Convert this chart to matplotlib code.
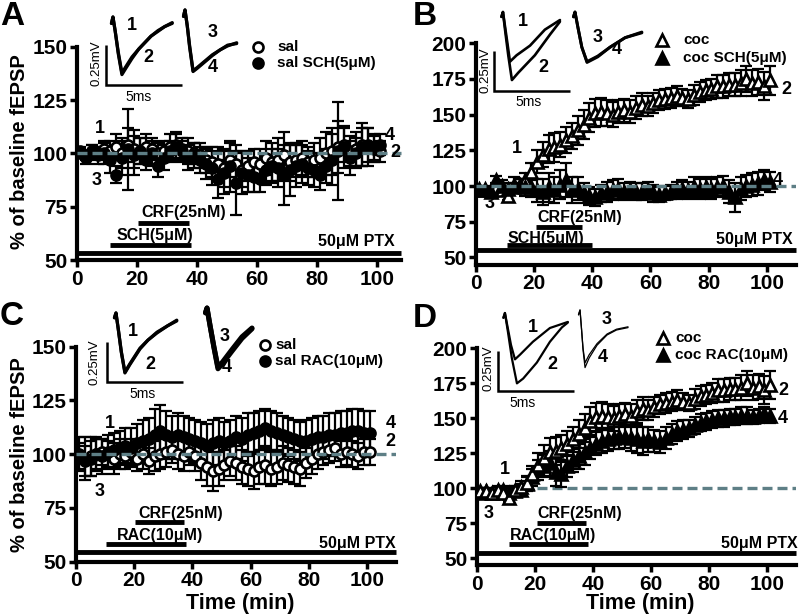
import matplotlib
matplotlib.use('Agg')
import matplotlib.pyplot as plt
from matplotlib.lines import Line2D
import numpy as np

plt.rcParams['font.family'] = ['Liberation Sans', 'DejaVu Sans']

# ---------------- data ----------------
time = [1,3,5,7,9,11,13,15,17,19,21,23,25,27,29,31,33,35,37,39,41,43,45,47,49,
        51,53,55,57,59,61,63,65,67,69,71,73,75,77,79,81,83,85,87,89,91,93,95,97,99,101]

A_sal = [100,99,101,100,102,101,103,100,104,102, 101,103,102,100,101,103,104,102,101,100,
         99,97,96,95,93,97,95,92,94,96, 95,98,96,97,99,96,97,98,96,97,
         98,100,101,103,104,101,102,104,103,102,101]
A_sal_err = [2,2,3,3,4,5,6,7,8,9, 6,6,5,5,5,6,6,5,6,5, 6,6,7,8,9,8,9,8,7,6,
             7,8,9,10,11,9,8,8,7,8, 9,10,11,12,8,7,8,10,9,6,5]
A_sch = [101,98,101,99,100,97,90,98,102,99, 101,97,100,94,98,101,103,101,98,99,
         97,95,93,88,91,94,86,91,90,89, 88,92,94,93,90,92,94,95,93,92,
         90,94,97,101,103,98,100,103,104,103,104]
A_sch_err = [2,3,3,4,5,6,4,8,19,9, 6,5,6,5,6,5,6,5,6,6, 6,7,8,9,10,12,15,10,8,7,
             6,7,8,9,14,12,10,9,8,8, 7,8,12,23,10,8,7,9,8,6,5]

coc = [98,98,97,99,97,93,99,101,104,110, 117,122,126,127,129,132,135,139,143,148,
       151,152,151,150,152,153,152,155,157,156, 158,160,161,162,163,162,161,164,166,167,
       168,170,170,171,171,172,175,172,173,170,174]
coc_err = [2,2,2,3,3,3,3,4,5,6, 8,9,10,10,9,9,9,10,10,10, 10,10,9,9,8,8,8,8,8,7,
           7,7,7,7,7,6,6,7,7,7, 7,8,8,8,8,9,9,9,9,10,10]
B_sch = [97,97,96,104,100,98,101,100,99,99, 97,96,99,97,101,104,97,98,95,93,
         92,95,96,97,98,96,97,96,96,97, 95,94,95,96,97,98,97,99,98,99,
         98,99,100,96,92,98,100,101,102,104,103]
B_sch_err = [2,2,2,3,4,4,5,5,6,7, 8,9,10,9,10,12,9,8,7,6, 6,6,7,7,7,6,6,6,6,6,
             6,5,5,5,6,6,6,7,7,7, 7,7,7,8,10,8,8,8,8,7,7]

C_sal = [100,98,99,100,101,100,98,100,99,101, 98,100,97,99,100,101,102,100,99,101,
         99,96,94,92,93,95,97,96,94,93, 92,94,95,93,94,96,95,94,93,96,
         98,100,101,102,103,100,101,100,99,101,101]
C_sal_err = [8,10,9,7,6,6,7,7,6,6, 6,7,6,7,7,7,6,7,7,6, 7,8,9,9,8,7,7,8,8,8,
             8,8,9,8,8,8,8,8,8,7, 7,7,6,6,6,6,6,6,6,6,6]
C_rac = [99,97,98,100,99,101,102,103,104,103, 105,106,107,109,111,109,108,109,108,107,
         106,105,104,105,106,105,106,108,107,109, 110,111,112,111,110,109,108,107,106,106,
         107,108,108,109,109,110,110,111,111,110,110]
C_rac_err = [6,7,8,8,8,8,8,8,8,9, 9,10,10,12,12,11,10,10,10,10, 10,10,10,11,11,10,10,10,10,10,
             9,9,9,9,9,9,9,9,9,10, 10,10,10,10,10,10,10,10,10,10,10]

D_rac = [97,98,97,98,99,97,98,99,103,108, 113,116,118,112,110,116,120,123,126,129,
         132,134,135,136,137,137,136,135,134,135, 134,133,136,139,141,142,143,145,147,148,
         149,150,150,151,151,152,152,151,152,153,152]
D_rac_err = [2,2,2,3,3,3,4,4,5,6, 7,8,9,10,9,8,8,9,9,8, 8,9,8,8,9,8,9,10,10,9,
             8,8,8,7,7,7,6,6,6,6, 6,6,6,6,6,6,6,5,5,5,5]

# example fEPSP traces (ms, mV; relative to stimulus artifact tip)
A_tr12_t = [-0.1,0,0.15,0.35,0.59,0.85,1.25,1.7,2.1,2.5,2.96,3.4,3.9]
A_tr1_v = [-0.04,0,-0.09,-0.22,-0.35,-0.31,-0.25,-0.2,-0.16,-0.12,-0.09,-0.06,-0.04]
A_tr2_v = [-0.04,0,-0.09,-0.23,-0.36,-0.32,-0.26,-0.2,-0.16,-0.12,-0.085,-0.06,-0.035]
A_tr34_t = [-0.1,0,0.15,0.3,0.53,0.8,1.3,1.8,2.3,2.8,3.4]
A_tr3_v = [-0.04,0,-0.1,-0.22,-0.38,-0.36,-0.32,-0.28,-0.25,-0.22,-0.21]
A_tr4_v = [-0.04,0,-0.1,-0.23,-0.385,-0.365,-0.325,-0.285,-0.25,-0.225,-0.205]

B_tr1_t = [-0.1,0,0.15,0.3,0.46,0.9,1.78,2.76,3.75]
B_tr1_v = [-0.03,0,-0.1,-0.2,-0.31,-0.27,-0.21,-0.11,-0.05]
B_tr2_t = [-0.1,0,0.15,0.35,0.59,1.0,2.1,3.1,3.75]
B_tr2_v = [-0.03,0,-0.12,-0.27,-0.425,-0.38,-0.27,-0.14,-0.06]
B_tr34_t = [-0.1,0,0.2,0.45,0.79,1.5,2.3,3.3,4.4]
B_tr3_v = [-0.03,0,-0.1,-0.22,-0.31,-0.275,-0.22,-0.16,-0.13]
B_tr4_v = [-0.03,0,-0.1,-0.22,-0.315,-0.28,-0.22,-0.16,-0.125]

C_tr12_t = [-0.1,0,0.15,0.35,0.59,0.9,1.58,2.1,2.7,3.4,4.0]
C_tr1_v = [-0.03,0,-0.1,-0.24,-0.37,-0.32,-0.22,-0.17,-0.12,-0.08,-0.045]
C_tr2_v = [-0.03,0,-0.1,-0.245,-0.375,-0.325,-0.225,-0.17,-0.125,-0.08,-0.05]
C_tr34_t = [-0.1,0,0.2,0.45,0.72,1.0,1.64,2.3,2.96]
C_tr3_v = [-0.03,0,-0.11,-0.24,-0.37,-0.34,-0.26,-0.18,-0.125]
C_tr4_v = [-0.03,0,-0.11,-0.245,-0.38,-0.35,-0.27,-0.19,-0.13]

D_tr1_t = [-0.1,0,0.2,0.4,0.66,1.0,1.84,2.96,4.14]
D_tr1_v = [-0.03,0,-0.1,-0.2,-0.29,-0.26,-0.18,-0.094,-0.056]
D_tr2_t = [-0.1,0,0.2,0.45,0.79,1.2,2.1,2.96,3.75,4.14]
D_tr2_v = [-0.03,0,-0.12,-0.28,-0.44,-0.41,-0.31,-0.18,-0.09,-0.06]
D_tr34_t = [-0.1,0,0.1,0.2,0.33,0.6,1.12,1.78,2.4,3.16]
D_tr3_v = [-0.03,0,-0.12,-0.25,-0.36,-0.3,-0.22,-0.156,-0.125,-0.11]
D_tr4_v = [-0.03,0,-0.12,-0.24,-0.33,-0.28,-0.21,-0.15,-0.12,-0.105]

# ---------------- figure ----------------
W, H = 800, 615
fig = plt.figure(figsize=(W/100, H/100), dpi=100)
DASH_COL = '#5e7f86'
PX_PER_MS = 15.2
PX_PER_MV = 160.0


def px_axes(x0, x1, ytop, ybot):
    return fig.add_axes([x0/W, 1-ybot/H, (x1-x0)/W, (ybot-ytop)/H])


def style(ax, xmax, ymin, ymax, yticks):
    ax.set_xlim(0, xmax)
    ax.set_ylim(ymin, ymax)
    for s in ['top', 'right']:
        ax.spines[s].set_visible(False)
    for s in ['left', 'bottom']:
        ax.spines[s].set_linewidth(3)
    ax.set_xticks([0, 20, 40, 60, 80, 100])
    ax.set_yticks(yticks)
    ax.tick_params(direction='out', length=5, width=2.5, labelsize=15, pad=2)
    for lab in ax.get_xticklabels() + ax.get_yticklabels():
        lab.set_fontweight('bold')
    ax.patch.set_alpha(0)


def series(ax, y, e, marker, filled, ms):
    ax.errorbar(time, y, yerr=e, fmt='none', ecolor='k', elinewidth=1.6,
                capsize=4.5, capthick=1.6, zorder=2)
    ax.plot(time, y, linestyle='none', marker=marker, ms=ms,
            mfc='k' if filled else 'white', mec='k', mew=1.9, zorder=3)


def bar(ax, x0, x1, y, lw=3.5):
    ax.plot([x0, x1], [y, y], color='k', lw=lw, solid_capstyle='butt',
            clip_on=False, zorder=4)


def txt(ax, x, y, s, ha='left', va='center', size=11.5):
    ax.text(x, y, s, ha=ha, va=va, fontsize=size, fontweight='bold',
            clip_on=False, zorder=6)


def legend(xm, ytop, ybot, xt, marker, labels, ms):
    for (yy, filled, lab) in [(ytop, False, labels[0]), (ybot, True, labels[1])]:
        fig.add_artist(Line2D([xm/W], [1-yy/H], transform=fig.transFigure,
                              marker=marker, ms=ms, mfc='k' if filled else 'white',
                              mec='k', mew=1.9, linestyle='none'))
        fig.text(xt/W, 1-yy/H, lab, ha='left', va='center', fontsize=11,
                 fontweight='bold')


def inset(box, traces, corner, mv_pos, ms_pos, labs):
    x0, y0, w, h = box
    ia = fig.add_axes([x0/W, 1-(y0+h)/H, w/W, h/H])
    ia.set_xlim(0, w/PX_PER_MS)
    ia.set_ylim(-h/PX_PER_MV, 0)
    ia.axis('off')
    for (t, v, off, lw) in traces:
        ia.plot(np.array(t)+off[0], np.array(v)+off[1], color='k', lw=lw,
                solid_joinstyle='round', solid_capstyle='round')
    cx, cy = corner
    ia.plot([cx, cx, cx+5], [cy+0.25, cy, cy], color='k', lw=1.8,
            solid_joinstyle='miter', solid_capstyle='butt')
    ia.text(mv_pos[0], mv_pos[1], '0.25mV', rotation=90, ha='center', va='center',
            fontsize=9.5)
    ia.text(ms_pos[0], ms_pos[1], '5ms', ha='center', va='center', fontsize=10)
    for (s, (lx, ly)) in zip(['1', '2', '3', '4'], labs):
        ia.text(lx, ly, s, ha='center', va='center', fontsize=13, fontweight='bold')


# ---------- Panel A ----------
axA = px_axes(77, 77+108*3.0, 46.7, 260)
style(axA, 108, 50, 150, [50, 75, 100, 125, 150])
series(axA, A_sal, A_sal_err, 'o', False, 7.2)
series(axA, A_sch, A_sch_err, 'o', True, 7.2)
axA.plot([0, 108], [100, 100], color=DASH_COL, lw=2.4, dashes=(3, 1.5), zorder=5, clip_on=False)
bar(axA, 0, 108, 53.5)
bar(axA, 11, 37.9, 56.9)
bar(axA, 20.4, 37.4, 67.4)
txt(axA, 13.2, 61.6, 'SCH(5μM)')
txt(axA, 21.6, 72.5, 'CRF(25nM)')
txt(axA, 106, 58.9, '50μM PTX', ha='right')
for s, (x, y) in zip(['1', '3', '4', '2'], [(7.7, 111.8), (6.6, 87.4), (104.3, 108.5), (106, 100.6)]):
    txt(axA, x, y, s, ha='center', size=13)

# ---------- Panel B ----------
axB = px_axes(476, 476+110*2.907, 43.3, 264.5)
style(axB, 110, 45, 200, [50, 75, 100, 125, 150, 175, 200])
series(axB, coc, coc_err, '^', False, 8.5)
series(axB, B_sch, B_sch_err, '^', True, 8.5)
axB.plot([0, 110], [100, 100], color=DASH_COL, lw=2.4, dashes=(3, 1.5), zorder=5)
bar(axB, 0, 110, 55.2)
bar(axB, 10.8, 40, 58.7)
bar(axB, 20.6, 36.3, 71.5)
txt(axB, 11, 63.4, 'SCH(5μM)')
txt(axB, 21, 77.6, 'CRF(25nM)')
txt(axB, 109, 62.8, '50μM PTX', ha='right')
for s, (x, y) in zip(['1', '3', '2', '4'], [(14, 126.4), (4.8, 87.9), (106.8, 167.3), (103.8, 104.2)]):
    txt(axB, x, y, s, ha='center', size=13)

# ---------- Panel C ----------
axC = px_axes(76, 76+110*2.91, 346.7, 561.7)
style(axC, 110, 50, 150, [50, 75, 100, 125, 150])
series(axC, C_sal, C_sal_err, 'o', False, 7.2)
series(axC, C_rac, C_rac_err, 'o', True, 7.2)
axC.plot([0, 110], [100, 100], color=DASH_COL, lw=2.4, dashes=(3, 1.5), zorder=5)
bar(axC, 0, 110, 54.7)
bar(axC, 10.3, 37.8, 58.1)
bar(axC, 20.3, 37.2, 68.3)
txt(axC, 13.9, 62.4, 'RAC(10μM)')
txt(axC, 21.4, 72.5, 'CRF(25nM)')
txt(axC, 110, 58.6, '50μM PTX', ha='right')
for s, (x, y) in zip(['1', '3', '4', '2'], [(11.7, 114.4), (8.2, 82.6), (108, 114.4), (108, 105.8)]):
    txt(axC, x, y, s, ha='center', size=13)

# ---------- Panel D ----------
axD = px_axes(477.3, 477.3+110*2.9, 348.3, 565.3)
style(axD, 110, 45, 200, [50, 75, 100, 125, 150, 175, 200])
series(axD, D_rac, D_rac_err, '^', True, 8.5)
series(axD, coc, coc_err, '^', False, 8.5)
axD.plot([0, 110], [100, 100], color=DASH_COL, lw=2.4, dashes=(3, 1.5), zorder=1)
bar(axD, 0, 110, 53.6)
bar(axD, 10.8, 38.1, 60)
bar(axD, 20.6, 37.4, 75)
txt(axD, 11.1, 66.6, 'RAC(10μM)')
txt(axD, 20.7, 82.1, 'CRF(25nM)')
txt(axD, 110.3, 60.7, '50μM PTX', ha='right')
for s, (x, y) in zip(['1', '3', '2', '4'], [(9.5, 113.1), (3.8, 82), (105.5, 170.2), (105.5, 150)]):
    txt(axD, x, y, s, ha='center', size=13)

# axis titles
for yc in [152, 455]:
    fig.text(20/W, 1-yc/H, '% of baseline fEPSP', rotation=90, ha='center', va='center',
             fontsize=14.5, fontweight='bold')
for xc in [240.7, 640.7]:
    fig.text(xc/W, 1-604/H, 'Time (min)', ha='center', va='center',
             fontsize=15.5, fontweight='bold')

# panel letters
for s, (x, y) in zip('ABCD', [(0, 25), (413, 25), (0, 325), (413, 327)]):
    fig.text(x/W, 1-y/H, s, ha='left', va='baseline', fontsize=24, fontweight='bold')

# legends
legend(258, 47, 63, 277, 'o', ['sal', 'sal SCH(5μM)'], 7.2)
legend(661.7, 40, 58.3, 683, '^', ['coc', 'coc SCH(5μM)'], 8.5)
legend(265, 345, 361, 275, 'o', ['sal', 'sal RAC(10μM)'], 7.2)
legend(663.3, 338.3, 355, 675, '^', ['coc', 'coc RAC(10μM)'], 8.5)

# insets with example traces
inset((90, 5, 160, 100),
      [(A_tr12_t, A_tr1_v, (1.51, -0.075), 2.3), (A_tr12_t, A_tr2_v, (1.51, -0.075), 2.3),
       (A_tr34_t, A_tr3_v, (6.25, -0.031), 2.3), (A_tr34_t, A_tr4_v, (6.25, -0.031), 2.3)],
      (1.05, -0.5), (0.46, -0.3625), (3.22, -0.575),
      [(2.76, -0.125), (3.82, -0.325), (8.09, -0.169), (8.09, -0.3875)])
inset((480, 5, 170, 105),
      [(B_tr1_t, B_tr1_v, (1.51, -0.044), 1.9), (B_tr2_t, B_tr2_v, (1.51, -0.044), 1.9),
       (B_tr34_t, B_tr3_v, (6.25, -0.044), 2.1), (B_tr34_t, B_tr4_v, (6.25, -0.044), 2.1)],
      (0.92, -0.5375), (0.33, -0.406), (3.22, -0.606),
      [(2.83, -0.106), (4.14, -0.3875), (7.76, -0.206), (9.01, -0.281)])
inset((88, 300, 170, 100),
      [(C_tr12_t, C_tr1_v, (1.84, -0.081), 2.3), (C_tr12_t, C_tr2_v, (1.84, -0.081), 2.3),
       (C_tr34_t, C_tr3_v, (7.83, -0.05), 3.6), (C_tr34_t, C_tr4_v, (7.83, -0.05), 3.6)],
      (1.25, -0.5125), (0.46, -0.3875), (3.62, -0.5875),
      [(2.96, -0.2), (4.08, -0.406), (9.01, -0.231), (9.14, -0.419)])
inset((480, 300, 170, 110),
      [(D_tr1_t, D_tr1_v, (1.64, -0.081), 1.6), (D_tr2_t, D_tr2_v, (1.64, -0.081), 1.6),
       (D_tr34_t, D_tr3_v, (6.58, -0.0625), 0.9), (D_tr34_t, D_tr4_v, (6.58, -0.0625), 0.9)],
      (1.18, -0.569), (0.59, -0.425), (2.83, -0.644),
      [(3.49, -0.175), (4.74, -0.406), (8.36, -0.125), (8.09, -0.3625)])

fig.savefig('out.png', dpi=100)
